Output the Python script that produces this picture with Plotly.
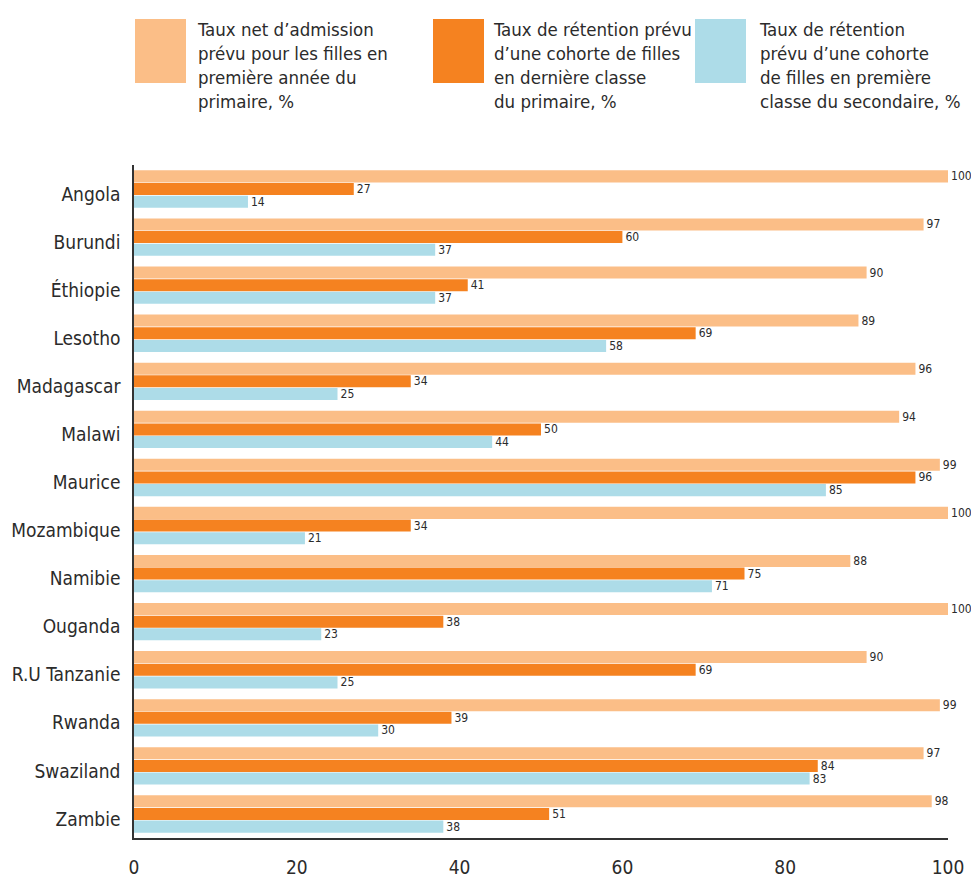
import plotly.graph_objects as go

countries = ["Angola", "Burundi", "Éthiopie", "Lesotho", "Madagascar", "Malawi", "Maurice",
             "Mozambique", "Namibie", "Ouganda", "R.U Tanzanie", "Rwanda", "Swaziland", "Zambie"]
admission_prim1 = [100, 97, 90, 89, 96, 94, 99, 100, 88, 100, 90, 99, 97, 98]
retention_last_prim = [27, 60, 41, 69, 34, 50, 96, 34, 75, 38, 69, 39, 84, 51]
retention_sec1 = [14, 37, 37, 58, 25, 44, 85, 21, 71, 23, 25, 30, 83, 38]

series_names = [
    "Taux net d’admission<br>prévu pour les filles en<br>première année du<br>primaire, %",
    "Taux de rétention prévu<br>d’une cohorte de filles<br>en dernière classe<br>du primaire, %",
    "Taux de rétention<br>prévu d’une cohorte<br>de filles en première<br>classe du secondaire, %",
]
series_values = [admission_prim1, retention_last_prim, retention_sec1]
colors = ["#FBBE87", "#F58220", "#ADDCE8"]

FONT = "Liberation Sans Narrow, Arial Narrow, DejaVu Sans Condensed, sans-serif"
TXT = "#2b2b2b"

fig = go.Figure()
for name, vals, col in zip(series_names, series_values, colors):
    fig.add_trace(go.Bar(
        y=countries, x=vals, orientation="h", name=name,
        marker=dict(color=col, line=dict(width=0)),
        text=[str(v) for v in vals], textposition="outside",
        textfont=dict(family=FONT, size=12, color=TXT),
        constraintext="none", cliponaxis=False,
    ))

fig.update_layout(
    width=971, height=880,
    margin=dict(l=134, r=23, t=165, b=42),
    barmode="group", bargap=0.21, bargroupgap=0.05,
    plot_bgcolor="white", paper_bgcolor="white",
    showlegend=False,
    font=dict(family=FONT, color=TXT),
    xaxis=dict(range=[0, 100], tickvals=[0, 20, 40, 60, 80, 100], showgrid=False, zeroline=False,
               showline=True, linecolor="#333", linewidth=1.5, ticks="", automargin=False,
               tickfont=dict(family=FONT, size=19, color=TXT), ticklabelstandoff=11),
    yaxis=dict(autorange="reversed", showgrid=False, zeroline=False,
               showline=True, linecolor="#333", linewidth=1.5, ticks="", automargin=False,
               tickfont=dict(family=FONT, size=19, color=TXT), ticklabelstandoff=8,
               ticklabelshift=-5),
)

# Custom legend: large swatches with wrapped captions above the plot
swatch_x = [135, 433, 695]
text_x = [195, 491, 757]
for sx, tx, col, name in zip(swatch_x, text_x, colors, series_names):
    fig.add_shape(type="rect", xref="paper", yref="paper",
                  x0=(sx - 134) / 814, x1=(sx + 51 - 134) / 814,
                  y0=(838 - 83) / 673, y1=(838 - 19) / 673,
                  fillcolor=col, line=dict(width=0))
    fig.add_annotation(xref="paper", yref="paper", x=(tx - 134) / 814, y=(838 - 17) / 673,
                       xanchor="left", yanchor="top", align="left", showarrow=False,
                       text=name, font=dict(family=FONT, size=18.5, color=TXT))

fig.write_html("out.html")
